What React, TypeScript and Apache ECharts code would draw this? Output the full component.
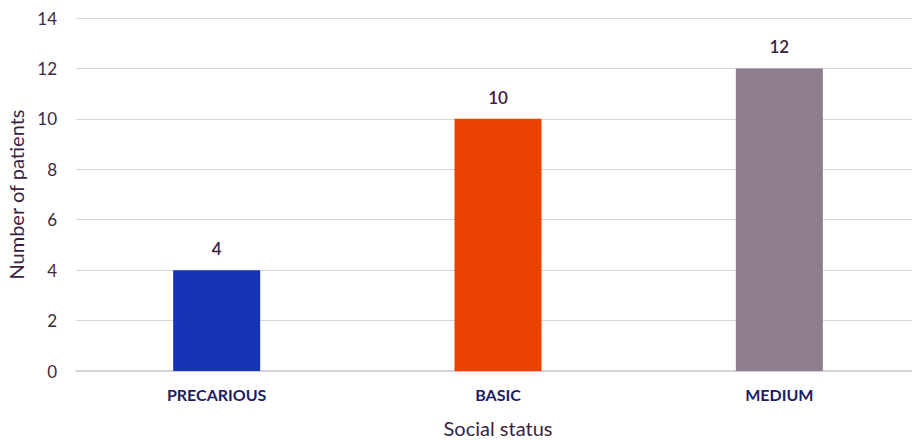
import React, { useEffect, useRef } from "react";
import * as echarts from "echarts";

const categories = ["PRECARIOUS", "BASIC", "MEDIUM"];
const patients = [4, 10, 12];
const barColors = ["#1833B5", "#E84100", "#8E7C8F"];

export default function App() {
  const ref = useRef<HTMLDivElement>(null);
  useEffect(() => {
    if (!ref.current) return;
    const chart = echarts.init(ref.current, null, { renderer: "svg" });
    chart.setOption({
      animation: false,
      textStyle: { fontFamily: "Lato" },
      grid: { left: 76, right: -8, top: 18, bottom: 70, outerBoundsMode: "none", containLabel: false },
      xAxis: {
        type: "category",
        data: categories,
        name: "Social status",
        nameLocation: "middle",
        nameGap: 47,
        nameTextStyle: { fontSize: 20, color: "#3B2140", fontFamily: "Lato" },
        axisLine: { lineStyle: { color: "#CFCAD3", width: 1.5 } },
        axisTick: { show: false },
        axisLabel: { margin: 15, fontSize: 16, fontWeight: "bold", color: "#221C5E", fontFamily: "Lato" },
      },
      yAxis: {
        type: "value",
        min: 0,
        max: 14,
        interval: 2,
        name: "Number of patients",
        nameLocation: "middle",
        nameGap: 42,
        nameTextStyle: { fontSize: 20, color: "#3B2140", fontFamily: "Lato" },
        axisLabel: { margin: 19, fontSize: 17, color: "#3B2A3E", fontFamily: "Lato" },
        splitLine: { lineStyle: { color: "#D9D5DD", width: 1.2 } },
        axisLine: { show: false },
        axisTick: { show: false },
      },
      series: [
        {
          type: "bar",
          data: patients.map((v, i) => ({ value: v, itemStyle: { color: barColors[i] } })),
          barWidth: 87,
          label: {
            show: true,
            position: "top",
            distance: 13,
            fontSize: 17,
            fontWeight: 600,
            color: "#3B2140",
            fontFamily: "Lato",
          },
        },
      ],
    });
    return () => chart.dispose();
  }, []);
  return (
    <div
      ref={ref}
      style={{ position: "absolute", left: 0, top: 0, width: 912, height: 441, background: "#fff" }}
    />
  );
}
